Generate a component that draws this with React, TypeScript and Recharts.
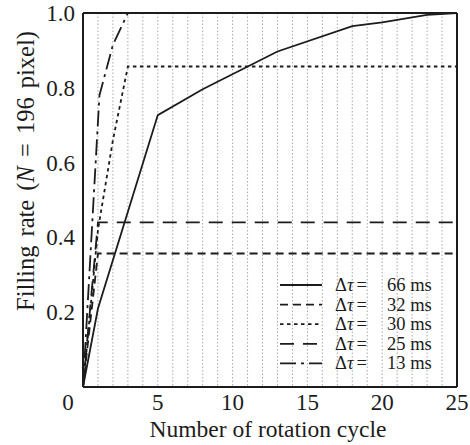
import { CartesianGrid, Legend, Line, LineChart, XAxis, YAxis } from "recharts";

const cycleTicks = [0, 1, 2, 3, 4, 5, 6, 7, 8, 9, 10, 11, 12, 13, 14, 15, 16, 17, 18, 19, 20, 21, 22, 23, 24, 25];
const cycleMajorTicks = [0, 5, 10, 15, 20, 25];
const rateTicks = [0, 0.2, 0.4, 0.6, 0.8, 1.0];
const rateMinorTicks = [0, 0.1, 0.2, 0.3, 0.4, 0.5, 0.6, 0.7, 0.8, 0.9, 1.0];

// Δτ = 66 ms
const cycles66 = [0, 1, 5, 8, 13, 18, 20, 23, 25];
const rate66 = [0, 0.21, 0.727, 0.796, 0.897, 0.965, 0.975, 0.995, 1.0];
// Δτ = 32 ms
const cycles32 = [0, 1, 25];
const rate32 = [0, 0.357, 0.357];
// Δτ = 30 ms
const cycles30 = [0, 1, 2, 3, 25];
const rate30 = [0, 0.42, 0.66, 0.857, 0.857];
// Δτ = 25 ms
const cycles25 = [0, 1, 25];
const rate25 = [0, 0.44, 0.44];
// Δτ = 13 ms
const cycles13 = [0, 1.1, 2, 3, 25];
const rate13 = [0, 0.78, 0.915, 1.0, 1.0];

const seriesNames = ["66 ms", "32 ms", "30 ms", "25 ms", "13 ms"];

const toPoints = (xs: number[], ys: number[]) => xs.map((c, i) => ({ cycle: c, rate: ys[i] }));

const series = [
  toPoints(cycles66, rate66),
  toPoints(cycles32, rate32),
  toPoints(cycles30, rate30),
  toPoints(cycles25, rate25),
  toPoints(cycles13, rate13),
];

const dashes = [undefined, "8 5", "3.5 3.5", "14 9", "16 5 3 5"];

const INK = "#1c1c1c";
const FONT = '"Liberation Serif", "Times New Roman", serif';

function XTick(props: any) {
  const { x, y, payload } = props;
  const v = payload.value;
  if (v % 5 !== 0) return <g />;
  return (
    <text x={v === 0 ? x - 15 : x} y={y + 21} textAnchor="middle" fontSize={23} fontFamily={FONT} fill={INK}>
      {v}
    </text>
  );
}

function YTick(props: any) {
  const { x, y, payload } = props;
  const v = payload.value;
  if (v === 0) return <g />;
  return (
    <text x={x} y={y + 8} textAnchor="end" fontSize={23} fontFamily={FONT} fill={INK}>
      {v.toFixed(1)}
    </text>
  );
}

function XTitle(props: any) {
  const vb = props.viewBox;
  return (
    <text x={vb.x + vb.width / 2 - 2} y={437} textAnchor="middle" fontSize={23.5} fontFamily={FONT} fill={INK}>
      Number of rotation cycle
    </text>
  );
}

function YTitle(props: any) {
  const vb = props.viewBox;
  const cx = 34;
  const cy = vb.y + 158;
  return (
    <text
      x={cx}
      y={cy}
      transform={`rotate(-90, ${cx}, ${cy})`}
      textAnchor="middle"
      fontSize={24.5}
      fontFamily={FONT}
      fill={INK}
      style={{ wordSpacing: 3 }}
    >
      Filling rate (<tspan fontStyle="italic">N</tspan> = 196 pixel)
    </text>
  );
}

function LegendBox() {
  return (
    <svg width={180} height={110} style={{ overflow: "visible", display: "block" }}>
      {seriesNames.map((name, i) => {
        const cy = 10 + i * 19.6;
        return (
          <g key={name}>
            <line x1={0} x2={42} y1={cy} y2={cy} stroke={INK} strokeWidth={1.8} strokeDasharray={dashes[i]} />
            <text x={55} y={cy + 6} fontSize={18.5} fontFamily={FONT} fill={INK}>
              Δ<tspan fontStyle="italic">τ</tspan>
              <tspan dx={3}>=</tspan>
              <tspan x={107}>{name}</tspan>
            </text>
          </g>
        );
      })}
    </svg>
  );
}

export default function App() {
  const axisLine = { stroke: INK, strokeWidth: 2 };
  const tickLine = { stroke: INK, strokeWidth: 1.6 };
  return (
    <div style={{ position: "absolute", left: 0, top: 0, background: "#fff" }}>
      <LineChart width={470} height={445} margin={{ top: 13, right: 13, bottom: 0, left: 0 }}>
        <CartesianGrid
          xAxisId="b"
          yAxisId="l"
          horizontal={false}
          stroke="#a8a8a8"
          strokeDasharray="1.5 2"
          strokeWidth={1}
        />
        <XAxis
          xAxisId="b"
          type="number"
          dataKey="cycle"
          domain={[0, 25]}
          allowDataOverflow
          ticks={cycleTicks}
          interval={0}
          height={58}
          tickSize={0}
          tickLine={false}
          axisLine={axisLine}
          tick={<XTick />}
          label={<XTitle />}
        />
        <XAxis xAxisId="bm" type="number" domain={[0, 25]} allowDataOverflow ticks={cycleTicks} interval={0}
          orientation="bottom" mirror tickSize={5} tickLine={tickLine} axisLine={false} tick={false} />
        <XAxis xAxisId="bM" type="number" domain={[0, 25]} allowDataOverflow ticks={cycleMajorTicks} interval={0}
          orientation="bottom" mirror tickSize={9} tickLine={tickLine} axisLine={false} tick={false} />
        <XAxis xAxisId="t" type="number" domain={[0, 25]} allowDataOverflow ticks={cycleTicks} interval={0}
          orientation="top" mirror tickSize={8} tickLine={tickLine} axisLine={axisLine} tick={false} />
        <YAxis
          yAxisId="l"
          type="number"
          dataKey="rate"
          domain={[0, 1]}
          allowDataOverflow
          ticks={rateTicks}
          interval={0}
          width={83}
          tickSize={0}
          tickMargin={8}
          tickLine={false}
          axisLine={axisLine}
          tick={<YTick />}
          label={<YTitle />}
        />
        <YAxis yAxisId="lm" type="number" domain={[0, 1]} allowDataOverflow ticks={rateMinorTicks} interval={0}
          orientation="left" mirror tickSize={6} tickLine={tickLine} axisLine={false} tick={false} />
        <YAxis yAxisId="lM" type="number" domain={[0, 1]} allowDataOverflow ticks={rateTicks} interval={0}
          orientation="left" mirror tickSize={9} tickLine={tickLine} axisLine={false} tick={false} />
        <YAxis yAxisId="r" type="number" domain={[0, 1]} allowDataOverflow ticks={rateMinorTicks} interval={0}
          orientation="right" mirror tickSize={7} tickLine={tickLine} axisLine={axisLine} tick={false} />
        {series.map((pts, i) => (
          <Line
            key={seriesNames[i]}
            xAxisId="b"
            yAxisId="l"
            data={pts}
            dataKey="rate"
            name={seriesNames[i]}
            type="linear"
            stroke={INK}
            strokeWidth={1.8}
            strokeDasharray={dashes[i]}
            dot={false}
            activeDot={false}
            isAnimationActive={false}
          />
        ))}
        <Legend
          layout="vertical"
          align="center"
          verticalAlign="middle"
          content={() => <LegendBox />}
          wrapperStyle={{ left: 280, top: 275, width: 180, height: 110 }}
        />
      </LineChart>
    </div>
  );
}
